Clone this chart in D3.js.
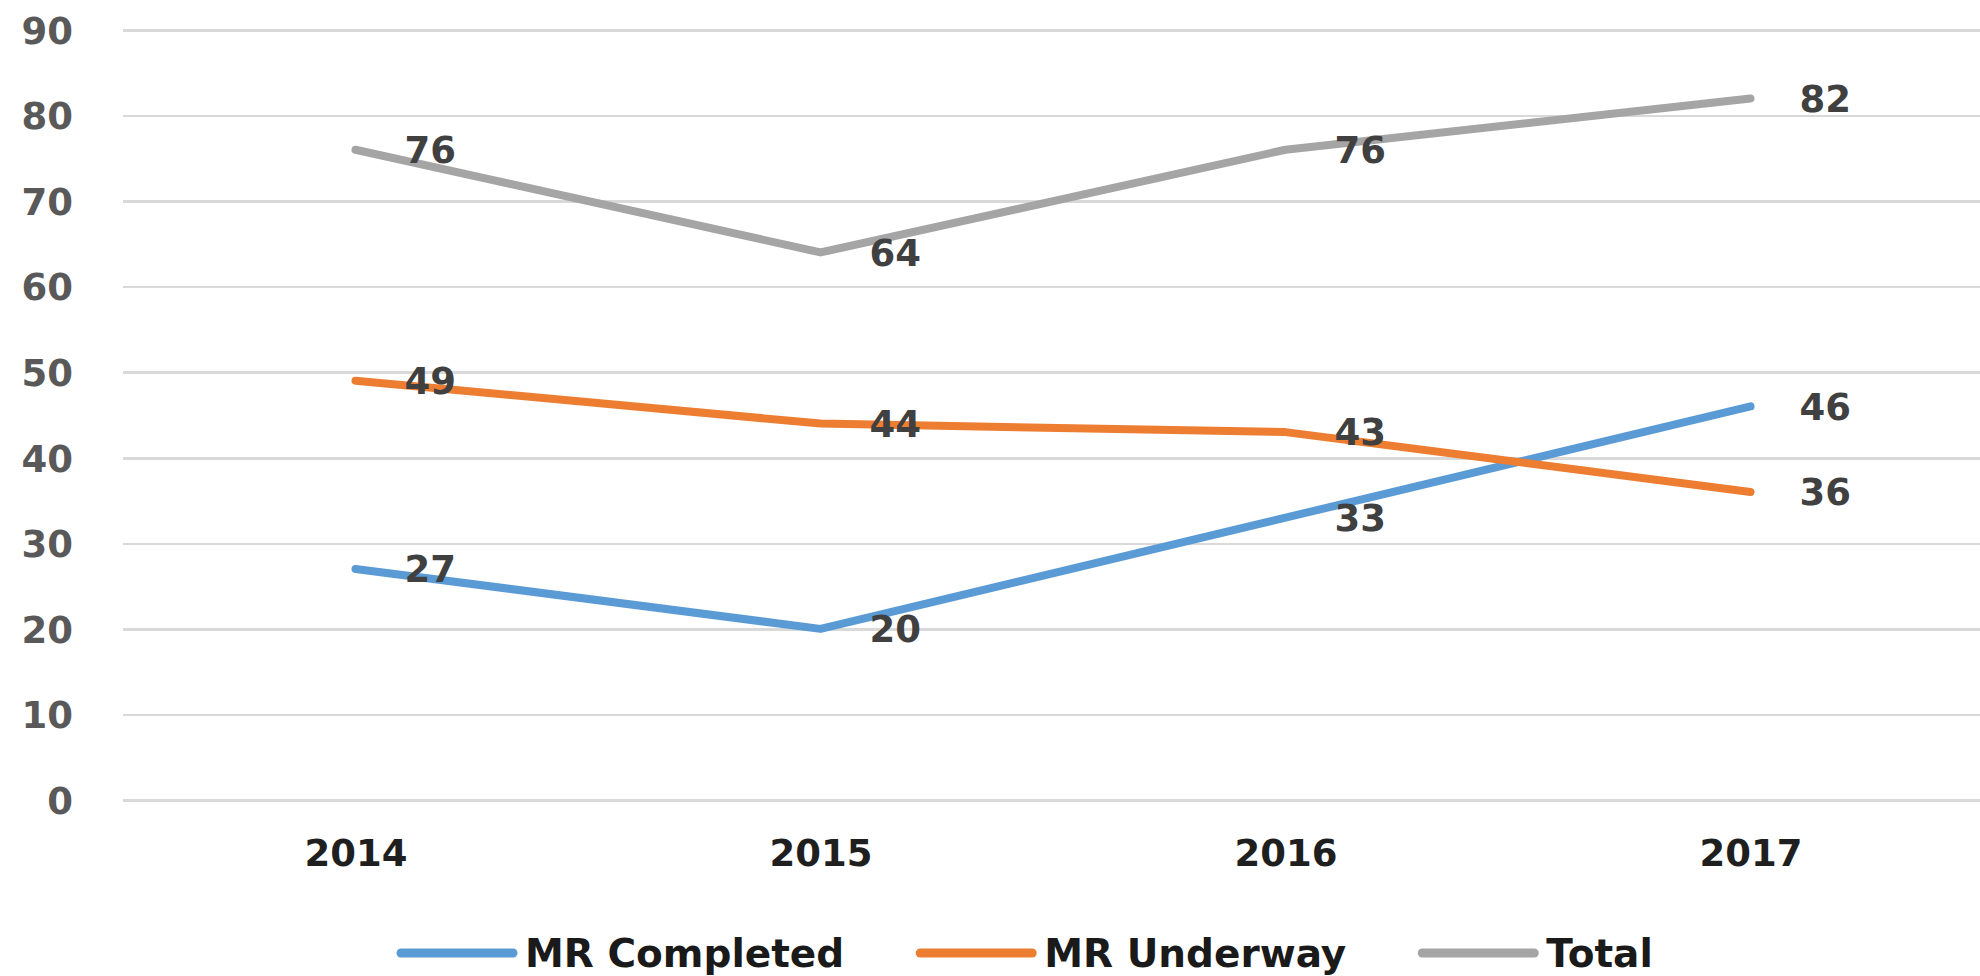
<!DOCTYPE html>
<meta charset="utf-8">

<!-- Load d3.js -->
<script src="https://d3js.org/d3.v7.min.js"></script>

<style>
body {
    margin: 0;
    background: #fff;
}

text {
    font-family: "DejaVu Sans", sans-serif;
    font-weight: bold;
}

.grid line {
    stroke: #d9d9d9;
    stroke-width: 2.5;
    shape-rendering: crispEdges;
}

.grid path {
    stroke-width: 0;
}

.yaxis text {
    fill: #595959;
    font-size: 37px;
}

.xaxis text {
    fill: #1f1f1f;
    font-size: 37px;
}

.label {
    fill: #404040;
    font-size: 37px;
}

.legend text {
    fill: #1a1a1a;
    font-size: 39px;
}
</style>

<div id="chart"></div>

<script>
// data
var years = ["2014", "2015", "2016", "2017"];
var completed = [27, 20, 33, 46];
var underway = [49, 44, 43, 36];
var total = [76, 64, 76, 82];
var seriesNames = ["MR Completed", "MR Underway", "Total"];
var seriesColors = ["#5b9bd5", "#ed7d31", "#a5a5a5"];
var yTicks = [0, 10, 20, 30, 40, 50, 60, 70, 80, 90];

var width = 1980, height = 976;
var margin = {top: 30, right: -3, bottom: 176, left: 123};

var svg = d3.select("#chart")
    .append("svg")
    .attr("width", width)
    .attr("height", height);

// scales
var x = d3.scalePoint()
    .domain(years)
    .range([margin.left, width - margin.right])
    .padding(0.5);

var y = d3.scaleLinear()
    .domain([0, 90])
    .range([height - margin.bottom, margin.top]);

// horizontal gridlines
svg.append("g")
    .attr("class", "grid")
    .attr("transform", "translate(" + margin.left + ",0)")
    .call(d3.axisRight(y)
        .tickValues(yTicks)
        .tickSize(width - margin.left)
        .tickFormat(""));

// y axis labels
svg.append("g")
    .attr("class", "yaxis")
    .attr("transform", "translate(73,0)")
    .call(d3.axisLeft(y).tickValues(yTicks).tickSize(0).tickPadding(0))
    .call(g => g.select(".domain").remove())
    .selectAll("text")
    .attr("dy", "0.36em");

// x axis labels
svg.append("g")
    .attr("class", "xaxis")
    .attr("transform", "translate(0," + y(0) + ")")
    .call(d3.axisBottom(x).tickSize(0).tickPadding(0))
    .call(g => g.select(".domain").remove())
    .selectAll("text")
    .attr("dy", "0")
    .attr("y", 66);

var series = [completed, underway, total];

var line = d3.line()
    .x(function(d, i) { return x(years[i]); })
    .y(function(d) { return y(d); });

// lines (total drawn first so it sits under nothing important)
series.forEach(function(values, s) {
    svg.append("path")
        .datum(values)
        .attr("fill", "none")
        .attr("stroke", seriesColors[s])
        .attr("stroke-width", 8)
        .attr("stroke-linecap", "round")
        .attr("stroke-linejoin", "round")
        .attr("d", line);
});

// data labels, to the right of each point
series.forEach(function(values, s) {
    svg.selectAll(".label-" + s)
        .data(values)
        .enter()
        .append("text")
        .attr("class", "label label-" + s)
        .attr("x", function(d, i) { return x(years[i]) + 49; })
        .attr("y", function(d) { return y(d); })
        .attr("dy", "0.36em")
        .text(function(d) { return d; });
});

// legend
var legend = svg.append("g")
    .attr("class", "legend")
    .attr("transform", "translate(397,953)");

var lx = 0;
seriesNames.forEach(function(name, s) {
    var item = legend.append("g").attr("transform", "translate(" + lx + ",0)");
    item.append("line")
        .attr("x1", 4).attr("x2", 116)
        .attr("stroke", seriesColors[s])
        .attr("stroke-width", 9)
        .attr("stroke-linecap", "round");
    var t = item.append("text")
        .attr("x", 128)
        .attr("dy", "0.36em")
        .text(name);
    lx += 128 + t.node().getComputedTextLength() + 72;
});
</script>
